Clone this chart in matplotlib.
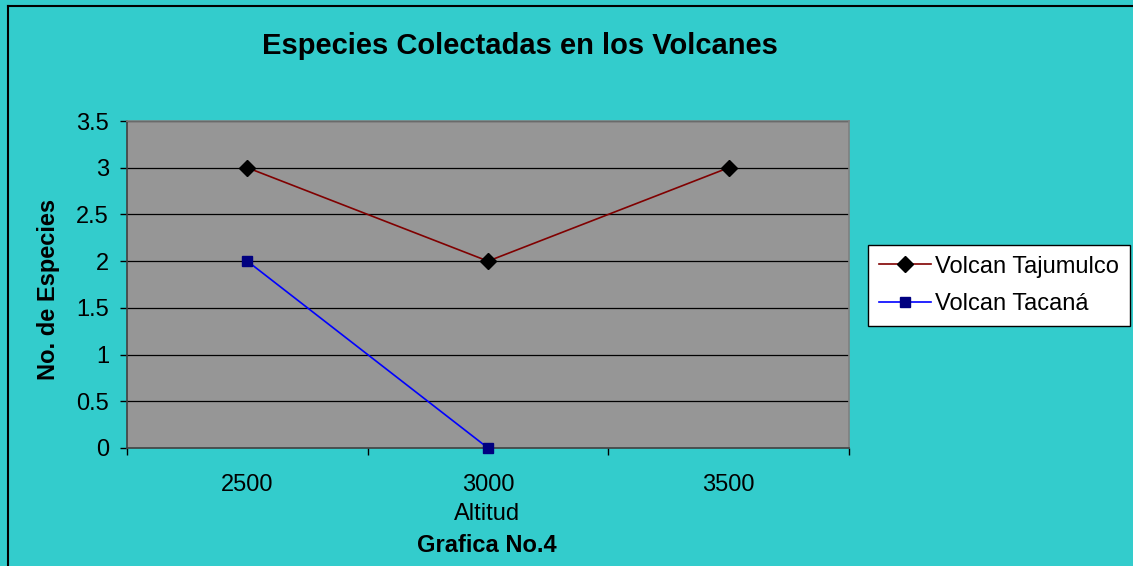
import matplotlib
matplotlib.use("Agg")
import matplotlib.pyplot as plt
from matplotlib.lines import Line2D

plt.rcParams['font.family'] = ['Liberation Sans', 'DejaVu Sans']

categories = ["2500", "3000", "3500"]
tajumulco = [3, 2, 3]
tacana = [2, 0]
yticks = [0, 0.5, 1, 1.5, 2, 2.5, 3, 3.5]
ytick_labels = ["0", "0.5", "1", "1.5", "2", "2.5", "3", "3.5"]

W, H = 1133, 566
fig = plt.figure(figsize=(W / 100, H / 100), dpi=100)
fig.patch.set_facecolor('#33CCCC')

# outer chart border (left and top visible)
fig.add_artist(Line2D([8 / W, 8 / W], [0, 1 - 6 / H], transform=fig.transFigure, color='black', lw=1.5))
fig.add_artist(Line2D([8 / W, 1], [1 - 6 / H, 1 - 6 / H], transform=fig.transFigure, color='black', lw=1.5))

ax = fig.add_axes([127 / W, 1 - 448 / H, (849 - 127) / W, (448 - 121) / H])
ax.set_facecolor('#969696')

x = list(range(len(categories)))
ax.plot(x, tajumulco, color='#800000', lw=1.2, marker='D', markersize=8,
        markerfacecolor='black', markeredgecolor='black', label='Volcan Tajumulco', zorder=3)
ax.plot(x[:len(tacana)], tacana, color='#0000FF', lw=1.2, marker='s', markersize=7.5,
        markerfacecolor='#000080', markeredgecolor='#000080', label='Volcan Tacaná', zorder=3,
        clip_on=False)

ax.set_xlim(-0.5, len(categories) - 0.5)
ax.set_ylim(0, 3.5)
ax.set_yticks(yticks)
ax.set_yticklabels(ytick_labels)
ax.set_xticks(x)
ax.set_xticklabels(categories)
ax.set_xticks([i - 0.5 for i in range(len(categories) + 1)], minor=True)
ax.tick_params(axis='x', which='major', length=0, labelsize=17, pad=19)
ax.tick_params(axis='x', which='minor', length=5, width=1, color='black', direction='out')
ax.tick_params(axis='y', length=5, width=1, labelsize=17, pad=8, color='black')

for yv in yticks[1:]:
    ax.axhline(yv, color='black', lw=0.9, zorder=1)

for side in ['top', 'right']:
    ax.spines[side].set_color('#808080')
    ax.spines[side].set_linewidth(1.2)
for side in ['left', 'bottom']:
    ax.spines[side].set_color('#404040')
    ax.spines[side].set_linewidth(1.2)

fig.text(48 / W, 1 - 289 / H, 'No. de Especies', rotation=90, ha='center', va='center',
         fontsize=17, fontweight='bold')
fig.text(487 / W, 1 - 514 / H, 'Altitud', ha='center', va='center', fontsize=17)
fig.text(487 / W, 1 - 546 / H, 'Grafica No.4', ha='center', va='center', fontsize=17,
         fontweight='bold')

fig.text(520 / W, 1 - 46 / H, 'Especies Colectadas en los Volcanes', ha='center', va='center',
         fontsize=21, fontweight='bold')

leg = fig.legend(loc='upper left', bbox_to_anchor=(868 / W, 1 - 245 / H), fontsize=17,
                 frameon=True, fancybox=False, edgecolor='black', facecolor='white', framealpha=1,
                 borderpad=0.45, handlelength=2.2, handletextpad=0.2, labelspacing=0.66,
                 borderaxespad=0)
leg.get_frame().set_linewidth(1)

fig.savefig('out.png', dpi=100, facecolor=fig.get_facecolor())
